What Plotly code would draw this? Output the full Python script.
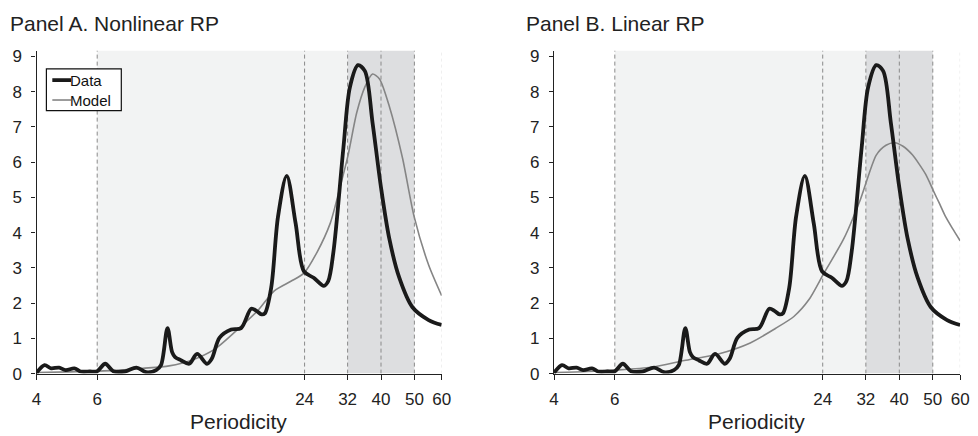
import plotly.graph_objects as go
from plotly.subplots import make_subplots

# Spectral density of the data (same series shown in both panels)
data_period = [4.0, 4.22, 4.41, 4.65, 4.86, 5.15, 5.37, 5.71, 6.0, 6.33, 6.68, 7.22, 7.8, 8.33,
               8.9, 9.19, 9.6, 9.9, 10.1, 10.5, 11.1, 11.7, 12.5, 12.9, 13.6, 14.7, 15.7, 16.8,
               17.4, 18.0, 18.4, 19.2, 20.1, 21.3, 22.6, 23.9, 25.5, 27.3, 28.1, 29.1, 31.1,
               32.5, 34.3, 35.9, 37.8, 40.0, 42.3, 45.2, 49.3, 55.0, 60.0]
data_value = [0.02, 0.24, 0.15, 0.17, 0.10, 0.15, 0.06, 0.06, 0.07, 0.28, 0.07, 0.06, 0.17, 0.04,
              0.10, 0.24, 1.29, 0.61, 0.47, 0.38, 0.28, 0.56, 0.28, 0.42, 1.02, 1.25, 1.29, 1.84,
              1.78, 1.68, 1.71, 2.44, 4.46, 5.61, 4.27, 2.90, 2.72, 2.49, 2.62, 3.45, 6.39,
              8.13, 8.75, 8.59, 7.12, 5.28, 3.82, 2.72, 1.89, 1.52, 1.38]

# Model spectrum, nonlinear risk premium
model_a_period = [4.0, 5.0, 6.0, 7.0, 8.15, 9.7, 11.3, 13.2, 15.7, 17.6, 19.6, 21.9, 23.9, 26.1,
                  28.5, 30.4, 32.1, 34.0, 35.9, 37.8, 39.6, 42.3, 46.2, 49.9, 55.0, 60.0]
model_a_value = [0.03, 0.05, 0.07, 0.10, 0.15, 0.22, 0.38, 0.70, 1.34, 1.80, 2.35, 2.62, 2.85, 3.45,
                  4.27, 5.28, 6.20, 7.40, 8.13, 8.50, 8.36, 7.58, 6.11, 4.46, 3.08, 2.21]

# Model spectrum, linear risk premium
model_b_period = [4.0, 5.0, 6.0, 7.65, 9.53, 11.9, 14.8, 17.5, 19.8, 21.9, 24.2, 27.6, 30.8, 34.3,
                  36.6, 38.8, 41.0, 43.7, 45.6, 47.7, 50.4, 52.3, 54.4, 57.0, 60.0]
model_b_value = [0.03, 0.06, 0.10, 0.18, 0.37, 0.55, 0.87, 1.28, 1.62, 2.10, 2.85, 3.82, 4.92, 6.20,
                 6.48, 6.55, 6.45, 6.20, 5.95, 5.65, 5.15, 4.82, 4.46, 4.12, 3.77]

tick_vals = [4, 6, 24, 32, 40, 50, 60]
dashed_periods = [6, 24, 32, 40, 50]
business_cycle_band = (6, 32)
medium_cycle_band = (32, 50)
panel_titles = ["Panel A. Nonlinear RP", "Panel B. Linear RP"]
legend_names = ["Data", "Model"]

FONT = "Liberation Sans, Arial, sans-serif"
Y_TOP = 9.166
DATA_LINE = dict(color="#1a1a1a", width=3.8)
MODEL_LINE = dict(color="#858585", width=1.6)

fig = make_subplots(rows=1, cols=2)

models = [(model_a_period, model_a_value), (model_b_period, model_b_value)]
for i, (mp, mv) in enumerate(models):
    col = i + 1
    fig.add_trace(go.Scatter(x=mp, y=mv, mode="lines", name=legend_names[1],
                             line=dict(**MODEL_LINE, shape="spline", smoothing=0.7),
                             showlegend=False), row=1, col=col)
    fig.add_trace(go.Scatter(x=data_period, y=data_value, mode="lines", name=legend_names[0],
                             line=dict(**DATA_LINE, shape="spline", smoothing=0.9),
                             showlegend=False), row=1, col=col)

W, H = 978, 436
domains = [[32 / W, 443 / W], [557 / W, 969 / W]]
ydom = [1 - 382 / H, 1 - 49 / H]
for i in range(2):
    xa = "xaxis" if i == 0 else "xaxis2"
    ya = "yaxis" if i == 0 else "yaxis2"
    xr = "x" if i == 0 else "x2"
    yr = "y" if i == 0 else "y2"
    fig.layout[xa].update(type="log", domain=domains[i], range=[0.60206, 1.77815],
                          tickvals=tick_vals, ticktext=[str(v) for v in tick_vals],
                          ticks="outside", ticklen=5, tickcolor="#222", showline=True,
                          linecolor="#222", linewidth=1.2, showgrid=False, zeroline=False,
                          ticklabelstandoff=5,
                          tickfont=dict(family=FONT, size=17, color="#222"))
    fig.layout[ya].update(domain=ydom, range=[0, Y_TOP], tickvals=list(range(10)),
                          ticks="outside", ticklen=4, tickcolor="#222", showline=True,
                          linecolor="#222", linewidth=1.2, showgrid=False, zeroline=False,
                          ticklabelstandoff=6,
                          tickfont=dict(family=FONT, size=17, color="#222"))
    # shaded frequency bands
    fig.add_shape(type="rect", xref=xr, yref=yr, x0=business_cycle_band[0], x1=business_cycle_band[1],
                  y0=0, y1=Y_TOP, fillcolor="#f2f3f3", line_width=0, layer="below")
    fig.add_shape(type="rect", xref=xr, yref=yr, x0=medium_cycle_band[0], x1=medium_cycle_band[1],
                  y0=0, y1=Y_TOP, fillcolor="#dddee0", line_width=0, layer="below")
    for p in dashed_periods:
        fig.add_shape(type="line", xref=xr, yref=yr, x0=p, x1=p, y0=0, y1=Y_TOP,
                      line=dict(color="#8a8a8a", width=1, dash="4px,3px"), layer="below")
    fig.add_shape(type="line", xref=xr, yref=yr, x0=tick_vals[-1], x1=tick_vals[-1], y0=0, y1=Y_TOP,
                  line=dict(color="#e2e2e2", width=1, dash="dot"), layer="below")

# panel titles and axis labels
title_x = [3 / W, 527 / W]
label_x = [237 / W, 762 / W]
for i in range(2):
    fig.add_annotation(text=panel_titles[i], xref="paper", yref="paper", x=title_x[i], y=1 - 21 / H,
                       xanchor="left", yanchor="middle", showarrow=False,
                       font=dict(family=FONT, size=21, color="#222"))
    fig.add_annotation(text="Periodicity", xref="paper", yref="paper", x=label_x[i], y=1 - 431 / H,
                       xanchor="center", yanchor="middle", showarrow=False,
                       font=dict(family=FONT, size=21, color="#222"))

# legend box for panel A
box = dict(x0=42, y0=68, x1=118, y1=111)
fig.add_shape(type="rect", xref="paper", yref="paper",
              x0=box["x0"] / W, x1=box["x1"] / W, y0=1 - box["y1"] / H, y1=1 - box["y0"] / H,
              line=dict(color="#111", width=1.2), fillcolor="white", layer="above")
for name, line_style, yc in [(legend_names[0], DATA_LINE, 79.5), (legend_names[1], MODEL_LINE, 100)]:
    fig.add_shape(type="line", xref="paper", yref="paper", x0=48 / W, x1=67 / W,
                  y0=1 - yc / H, y1=1 - yc / H, line=line_style, layer="above")
    fig.add_annotation(text=name, xref="paper", yref="paper", x=64 / W, y=1 - yc / H,
                       xanchor="left", yanchor="middle", showarrow=False,
                       font=dict(family=FONT, size=15, color="#111"))

fig.update_layout(
    width=W, height=H,
    margin=dict(l=0, r=0, t=0, b=0),
    paper_bgcolor="white", plot_bgcolor="white",
    showlegend=False,
)

fig.write_html("out.html")
